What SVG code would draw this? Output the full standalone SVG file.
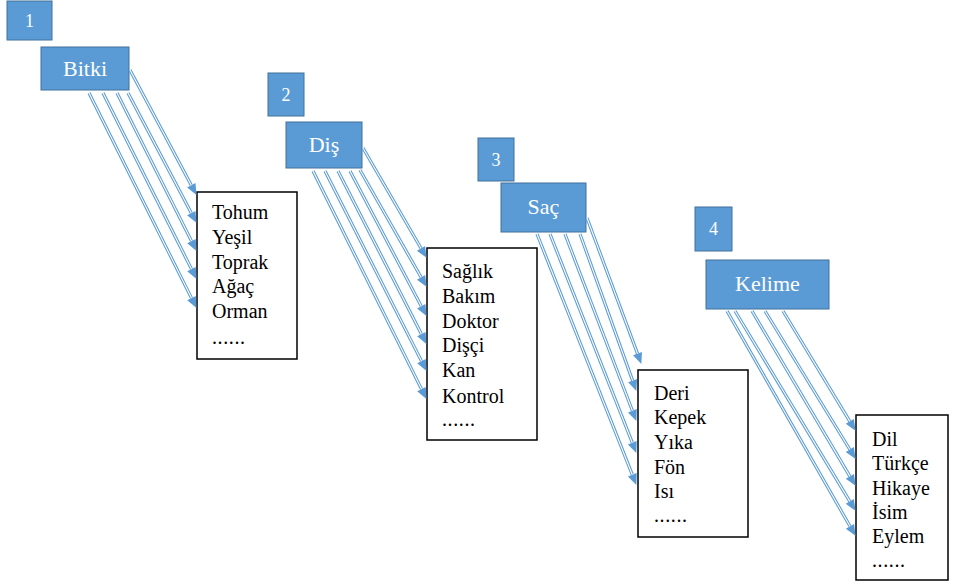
<svg xmlns="http://www.w3.org/2000/svg" width="955" height="585" viewBox="0 0 955 585">
  <style>
    text { font-family: 'Liberation Serif', 'DejaVu Serif', serif; }
    .num rect, .head rect { fill: #5b9bd5; stroke: #41719c; stroke-width: 1; }
    .num text { font-size: 18px; fill: #ffffff; text-anchor: middle; }
    .head text { font-size: 22px; fill: #ffffff; text-anchor: middle; }
    .list rect { fill: #ffffff; stroke: #000000; stroke-width: 1.5; }
    .list text { font-size: 20px; fill: #000000; }
    .dots { letter-spacing: 0.6px; }
    .outer { fill: none; stroke: #5b9bd5; stroke-width: 3.2; marker-end: url(#arrow); }
    .inner { fill: none; stroke: #ffffff; stroke-width: 1.1; }
  </style>
  <defs>
    <marker id="arrow" markerUnits="userSpaceOnUse" markerWidth="12" markerHeight="10" refX="0" refY="4.75" orient="auto" overflow="visible">
      <path d="M0,0 L11,4.75 L0,9.5 z" fill="#5b9bd5"/>
    </marker>
  </defs>

  <!-- number tags -->
  <g id="num1" class="num"><rect x="7" y="1" width="45" height="39"/><text x="29.5" y="27" font-family="Liberation Serif, serif">1</text></g>
  <g id="num2" class="num"><rect x="268" y="73" width="36" height="43"/><text x="286" y="101" font-family="Liberation Serif, serif">2</text></g>
  <g id="num3" class="num"><rect x="478" y="138" width="36" height="43"/><text x="496" y="166" font-family="Liberation Serif, serif">3</text></g>
  <g id="num4" class="num"><rect x="695" y="207" width="37" height="44"/><text x="713.5" y="235" font-family="Liberation Serif, serif">4</text></g>

  <!-- topic boxes -->
  <g id="bitki" class="head"><rect x="41" y="47" width="88" height="43"/><text x="85" y="76">Bitki</text></g>
  <g id="dis" class="head"><rect x="286" y="122" width="76" height="46"/><text x="324" y="152">Diş</text></g>
  <g id="sac" class="head"><rect x="501" y="183" width="85" height="49"/><text x="543.5" y="214">Saç</text></g>
  <g id="kelime" class="head"><rect x="706" y="260" width="123" height="49"/><text x="767.5" y="291">Kelime</text></g>

  <!-- word lists -->
  <g id="list-bitki" class="list">
    <rect x="197" y="192" width="100" height="167"/>
    <text x="212" y="219">Tohum</text>
    <text x="212" y="244">Yeşil</text>
    <text x="212" y="268.5">Toprak</text>
    <text x="212" y="293">Ağaç</text>
    <text x="212" y="318">Orman</text>
    <text class="dots" x="212" y="344">......</text>
  </g>
  <g id="list-dis" class="list">
    <rect x="427" y="248" width="110" height="192"/>
    <text x="442" y="278">Sağlık</text>
    <text x="442" y="302.5">Bakım</text>
    <text x="442" y="327.5">Doktor</text>
    <text x="442" y="352">Dişçi</text>
    <text x="442" y="377">Kan</text>
    <text x="442" y="402.5">Kontrol</text>
    <text class="dots" x="442" y="426">......</text>
  </g>
  <g id="list-sac" class="list">
    <rect x="638" y="370" width="110" height="167"/>
    <text x="654" y="399.5">Deri</text>
    <text x="654" y="424">Kepek</text>
    <text x="654" y="449">Yıka</text>
    <text x="654" y="473.5">Fön</text>
    <text x="654" y="498">Isı</text>
    <text class="dots" x="654" y="522">......</text>
  </g>
  <g id="list-kelime" class="list">
    <rect x="856" y="415" width="92" height="165"/>
    <text x="872" y="446">Dil</text>
    <text x="872" y="470">Türkçe</text>
    <text x="872" y="494.5">Hikaye</text>
    <text x="872" y="519">İsim</text>
    <text x="872" y="543">Eylem</text>
    <text class="dots" x="872" y="567">......</text>
  </g>

  <!-- connectors: double blue line with arrowhead -->
  <g id="connectors">
    <g id="c-bitki">
      <path class="outer" d="M130,70 L191.3,185.2"/><path class="inner" d="M130,70 L191.3,185.2"/>
      <path class="outer" d="M128,93 L191.3,213.1"/><path class="inner" d="M128,93 L191.3,213.1"/>
      <path class="outer" d="M117,93 L191.5,241.1"/><path class="inner" d="M117,93 L191.5,241.1"/>
      <path class="outer" d="M103,93 L191.5,269.1"/><path class="inner" d="M103,93 L191.5,269.1"/>
      <path class="outer" d="M89,93 L191.5,298.1"/><path class="inner" d="M89,93 L191.5,298.1"/>
    </g>
    <g id="c-dis">
      <path class="outer" d="M363,148 L421,248.3"/><path class="inner" d="M363,148 L421,248.3"/>
      <path class="outer" d="M360,170 L421.1,277.3"/><path class="inner" d="M360,170 L421.1,277.3"/>
      <path class="outer" d="M350,171 L421.3,306.2"/><path class="inner" d="M350,171 L421.3,306.2"/>
      <path class="outer" d="M338,171 L421.4,334.1"/><path class="inner" d="M338,171 L421.4,334.1"/>
      <path class="outer" d="M325,171 L421.5,361.1"/><path class="inner" d="M325,171 L421.5,361.1"/>
      <path class="outer" d="M313,171 L421.5,389.1"/><path class="inner" d="M313,171 L421.5,389.1"/>
    </g>
    <g id="c-sac">
      <path class="outer" d="M587,218 L637.5,353.6"/><path class="inner" d="M587,218 L637.5,353.6"/>
      <path class="outer" d="M580,234 L632.6,380.6"/><path class="inner" d="M580,234 L632.6,380.6"/>
      <path class="outer" d="M565,234 L632.4,410.7"/><path class="inner" d="M565,234 L632.4,410.7"/>
      <path class="outer" d="M550,234 L632.3,442.7"/><path class="inner" d="M550,234 L632.3,442.7"/>
      <path class="outer" d="M537,234 L632.3,474.7"/><path class="inner" d="M537,234 L632.3,474.7"/>
    </g>
    <g id="c-kelime">
      <path class="outer" d="M783,311 L849.8,421.4"/><path class="inner" d="M783,311 L849.8,421.4"/>
      <path class="outer" d="M765,311 L849.8,449.5"/><path class="inner" d="M765,311 L849.8,449.5"/>
      <path class="outer" d="M752,311 L849.9,476.4"/><path class="inner" d="M752,311 L849.9,476.4"/>
      <path class="outer" d="M735,311 L849.8,501.4"/><path class="inner" d="M735,311 L849.8,501.4"/>
      <path class="outer" d="M727,311 L850,526.3"/><path class="inner" d="M727,311 L850,526.3"/>
    </g>
  </g>
</svg>
